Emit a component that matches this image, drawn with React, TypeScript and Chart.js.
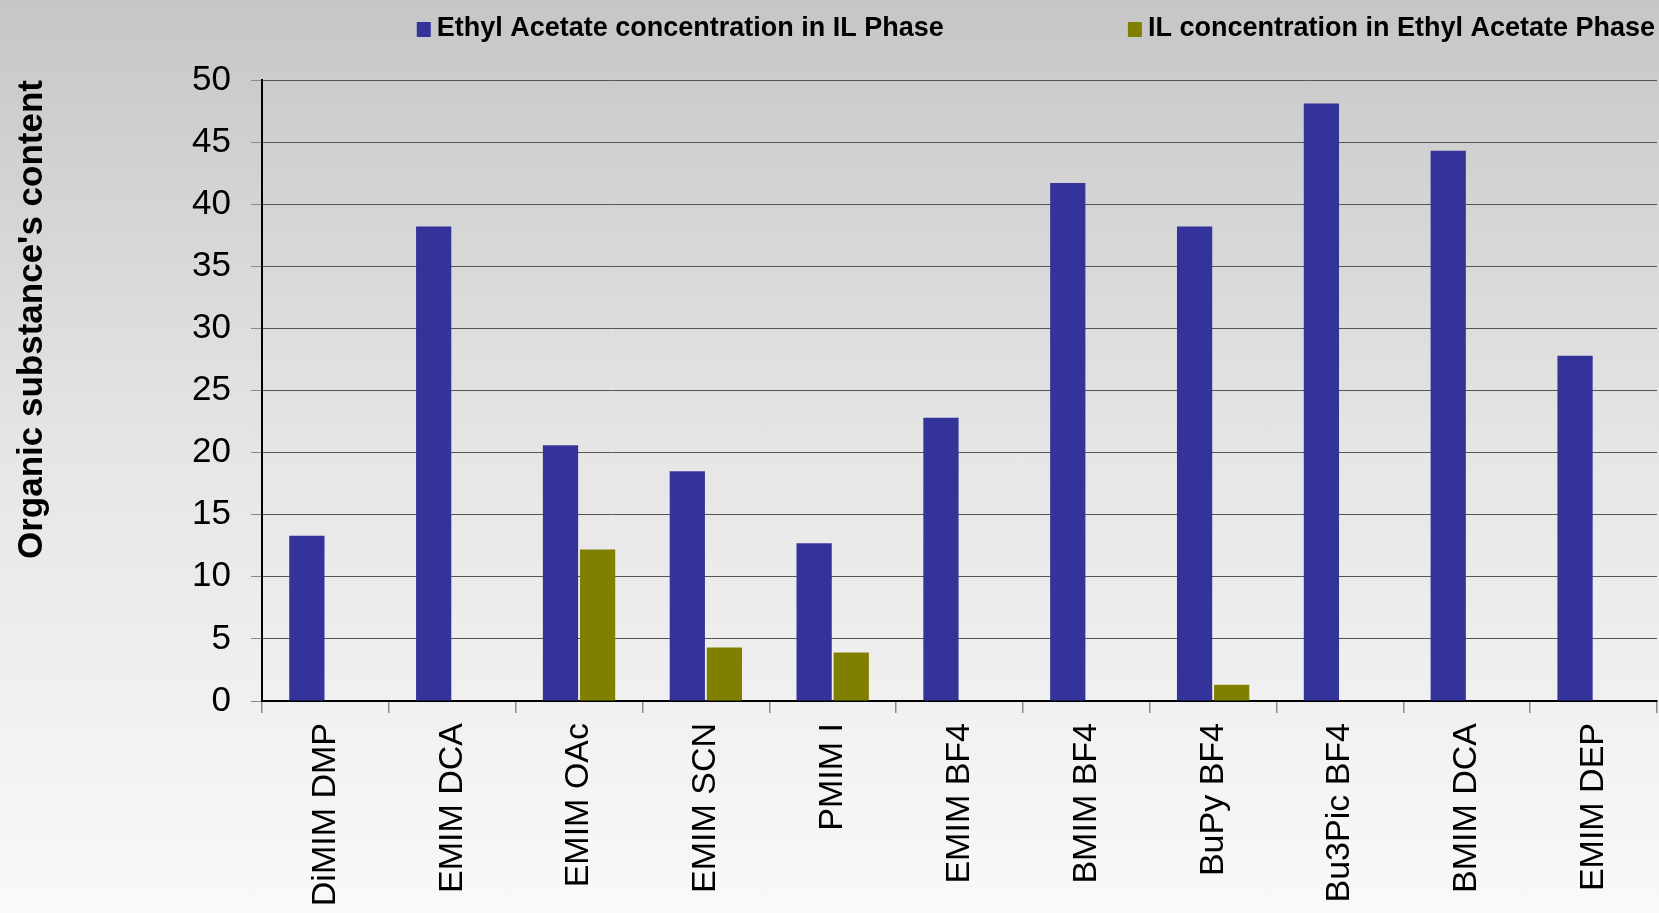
import React, { useEffect, useRef } from "react";
import { Chart, registerables } from "chart.js";

Chart.register(...registerables);

const categories = [
  "DiMIM DMP",
  "EMIM DCA",
  "EMIM OAc",
  "EMIM SCN",
  "PMIM I",
  "EMIM BF4",
  "BMIM BF4",
  "BuPy BF4",
  "Bu3Pic BF4",
  "BMIM DCA",
  "EMIM DEP",
];

const seriesNames = [
  "Ethyl Acetate concentration in IL Phase",
  "IL concentration in Ethyl Acetate Phase",
];

const ethylAcetateInIL = [13.3, 38.2, 20.6, 18.5, 12.7, 22.8, 41.7, 38.2, 48.1, 44.3, 27.8];
const ilInEthylAcetate = [0, 0, 12.2, 4.3, 3.9, 0, 0, 1.3, 0, 0, 0];

const yTicks = [0, 5, 10, 15, 20, 25, 30, 35, 40, 45, 50];
const yTitle = "Organic substance's content";

const colors = ["#333399", "#808000"];
const FONT = "'Liberation Sans', Arial, Helvetica, sans-serif";

const legendPlugin = {
  id: "customLegend",
  afterDraw(chart: any) {
    const ctx = chart.ctx;
    ctx.save();
    ctx.font = `bold 27px ${FONT}`;
    ctx.textBaseline = "middle";
    ctx.textAlign = "left";
    const y = 29;
    const box = 14;
    const gapBoxText = 6;
    const itemGap = 186;
    const w2 = ctx.measureText(seriesNames[1]).width;
    const w1 = ctx.measureText(seriesNames[0]).width;
    const text2Left = chart.width - 4 - w2;
    const box2Left = text2Left - gapBoxText - box;
    const text1Left = box2Left - itemGap - w1 + 2;
    const box1Left = text1Left - gapBoxText - box;
    const items = [
      { bx: box1Left, tx: text1Left, c: colors[0], t: seriesNames[0] },
      { bx: box2Left, tx: text2Left, c: colors[1], t: seriesNames[1] },
    ];
    for (const it of items) {
      ctx.fillStyle = it.c;
      ctx.fillRect(it.bx, y - box / 2, box, box + 1);
      ctx.fillStyle = "#000";
      ctx.fillText(it.t, it.tx, y);
    }
    ctx.restore();
  },
};

export default function App() {
  const ref = useRef<HTMLCanvasElement | null>(null);

  useEffect(() => {
    document.body.style.margin = "0";
    const canvas = ref.current;
    if (!canvas) return;
    const chart = new Chart(canvas, {
      type: "bar",
      data: {
        labels: categories,
        datasets: [
          {
            label: seriesNames[0],
            data: ethylAcetateInIL,
            backgroundColor: colors[0],
            borderWidth: 0,
          },
          {
            label: seriesNames[1],
            data: ilInEthylAcetate,
            backgroundColor: colors[1],
            borderWidth: 0,
          },
        ],
      },
      options: {
        responsive: false,
        animation: false,
        devicePixelRatio: 1,
        datasets: {
          bar: { categoryPercentage: 0.585, barPercentage: 0.95 },
        },
        layout: { padding: { top: 80, right: 2, left: 0, bottom: 0 } },
        plugins: {
          legend: { display: false },
          tooltip: { enabled: false },
        },
        scales: {
          x: {
            grid: {
              offset: true,
              drawOnChartArea: false,
              drawTicks: true,
              tickLength: 12,
              tickColor: "#8a8a8a",
              lineWidth: 1.5,
            },
            border: { display: true, color: "#000", width: 2 },
            ticks: {
              autoSkip: false,
              maxRotation: 90,
              minRotation: 90,
              padding: 10,
              color: "#000",
              font: { family: FONT, size: 34 },
            },
            afterFit(scale: any) {
              scale.height = 212;
            },
          },
          y: {
            min: 0,
            max: 50,
            afterBuildTicks(scale: any) {
              scale.ticks = yTicks.map((v) => ({ value: v }));
            },
            grid: {
              color: "#555",
              lineWidth: 1,
              drawTicks: true,
              tickLength: 11,
              tickColor: "#8a8a8a",
            },
            border: { display: true, color: "#000", width: 2 },
            ticks: {
              padding: 20,
              color: "#000",
              font: { family: FONT, size: 35 },
            },
            title: {
              display: true,
              text: yTitle,
              align: "end",
              color: "#000",
              padding: { top: 11, bottom: 0 },
              font: { family: FONT, size: 35, weight: "bold" },
            },
            afterFit(scale: any) {
              scale.width = 262;
            },
          },
        },
      },
      plugins: [legendPlugin],
    });
    return () => chart.destroy();
  }, []);

  return (
    <div style={{ position: "absolute", left: 0, top: 0, width: 1659, height: 913 }}>
      <canvas
        ref={ref}
        width={1659}
        height={913}
        style={{
          display: "block",
          width: 1659,
          height: 913,
          background: "linear-gradient(to bottom, #c6c6c6 0%, #e6e6e6 50%, #f9f9f9 100%)",
        }}
      />
    </div>
  );
}
